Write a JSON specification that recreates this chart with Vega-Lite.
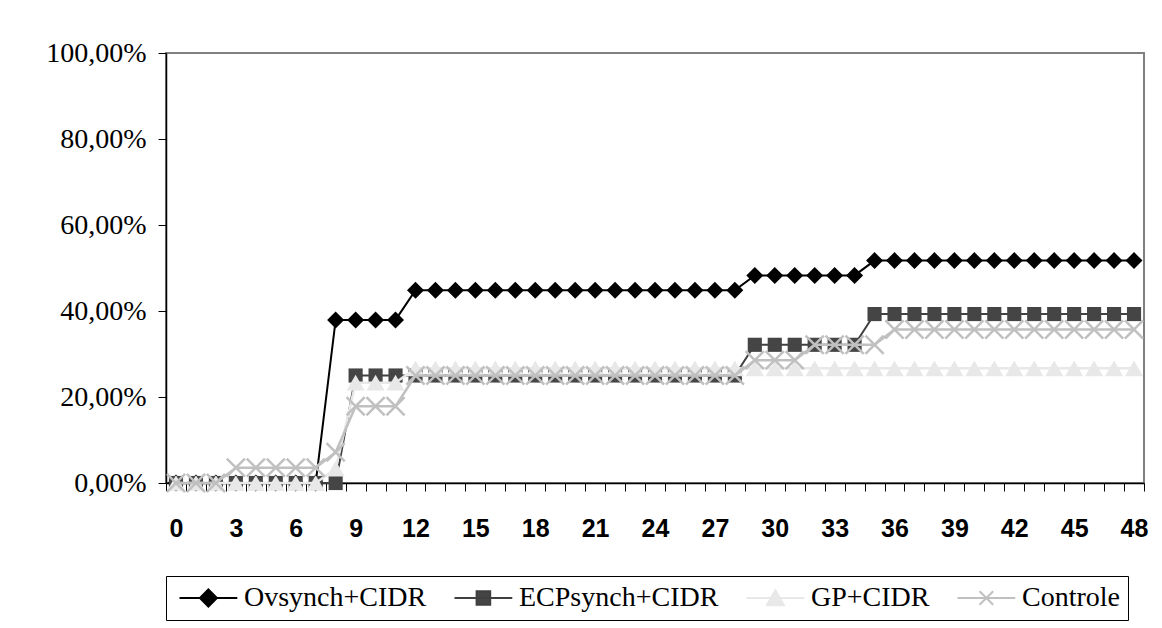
{
  "$schema": "https://vega.github.io/schema/vega-lite/v6.json",
  "width": 978,
  "height": 430,
  "autosize": {"type": "none"},
  "padding": {"left": 166, "top": 53, "right": 18, "bottom": 145},
  "background": "white",
  "config": {
    "view": {"stroke": "#808080", "strokeWidth": 2},
    "axis": {"grid": false},
    "legend": {
      "orient": "bottom", "direction": "horizontal", "title": null,
      "labelFont": "Liberation Serif", "labelFontSize": 28, "labelColor": "black",
      "symbolSize": 289, "symbolStrokeWidth": 2, "labelOffset": 42,
      "columnPadding": 22, "padding": 8, "strokeColor": "black", "fillColor": "white",
      "offset": 35, "labelLimit": 400, "symbolOpacity": 1
    }
  },
  "data": {"values": [
    {"day": 0, "Ovsynch+CIDR": 0, "ECPsynch+CIDR": 0, "GP+CIDR": 0, "Controle": 0},
    {"day": 1, "Ovsynch+CIDR": 0, "ECPsynch+CIDR": 0, "GP+CIDR": 0, "Controle": 0},
    {"day": 2, "Ovsynch+CIDR": 0, "ECPsynch+CIDR": 0, "GP+CIDR": 0, "Controle": 0},
    {"day": 3, "Ovsynch+CIDR": 0, "ECPsynch+CIDR": 0, "GP+CIDR": 0, "Controle": 0.0357},
    {"day": 4, "Ovsynch+CIDR": 0, "ECPsynch+CIDR": 0, "GP+CIDR": 0, "Controle": 0.0357},
    {"day": 5, "Ovsynch+CIDR": 0, "ECPsynch+CIDR": 0, "GP+CIDR": 0, "Controle": 0.0357},
    {"day": 6, "Ovsynch+CIDR": 0, "ECPsynch+CIDR": 0, "GP+CIDR": 0, "Controle": 0.0357},
    {"day": 7, "Ovsynch+CIDR": 0, "ECPsynch+CIDR": 0, "GP+CIDR": 0, "Controle": 0.0357},
    {"day": 8, "Ovsynch+CIDR": 0.3793, "ECPsynch+CIDR": 0, "GP+CIDR": 0.0333, "Controle": 0.0714},
    {"day": 9, "Ovsynch+CIDR": 0.3793, "ECPsynch+CIDR": 0.25, "GP+CIDR": 0.2333, "Controle": 0.1786},
    {"day": 10, "Ovsynch+CIDR": 0.3793, "ECPsynch+CIDR": 0.25, "GP+CIDR": 0.2333, "Controle": 0.1786},
    {"day": 11, "Ovsynch+CIDR": 0.3793, "ECPsynch+CIDR": 0.25, "GP+CIDR": 0.2333, "Controle": 0.1786},
    {"day": 12, "Ovsynch+CIDR": 0.4483, "ECPsynch+CIDR": 0.25, "GP+CIDR": 0.2667, "Controle": 0.25},
    {"day": 13, "Ovsynch+CIDR": 0.4483, "ECPsynch+CIDR": 0.25, "GP+CIDR": 0.2667, "Controle": 0.25},
    {"day": 14, "Ovsynch+CIDR": 0.4483, "ECPsynch+CIDR": 0.25, "GP+CIDR": 0.2667, "Controle": 0.25},
    {"day": 15, "Ovsynch+CIDR": 0.4483, "ECPsynch+CIDR": 0.25, "GP+CIDR": 0.2667, "Controle": 0.25},
    {"day": 16, "Ovsynch+CIDR": 0.4483, "ECPsynch+CIDR": 0.25, "GP+CIDR": 0.2667, "Controle": 0.25},
    {"day": 17, "Ovsynch+CIDR": 0.4483, "ECPsynch+CIDR": 0.25, "GP+CIDR": 0.2667, "Controle": 0.25},
    {"day": 18, "Ovsynch+CIDR": 0.4483, "ECPsynch+CIDR": 0.25, "GP+CIDR": 0.2667, "Controle": 0.25},
    {"day": 19, "Ovsynch+CIDR": 0.4483, "ECPsynch+CIDR": 0.25, "GP+CIDR": 0.2667, "Controle": 0.25},
    {"day": 20, "Ovsynch+CIDR": 0.4483, "ECPsynch+CIDR": 0.25, "GP+CIDR": 0.2667, "Controle": 0.25},
    {"day": 21, "Ovsynch+CIDR": 0.4483, "ECPsynch+CIDR": 0.25, "GP+CIDR": 0.2667, "Controle": 0.25},
    {"day": 22, "Ovsynch+CIDR": 0.4483, "ECPsynch+CIDR": 0.25, "GP+CIDR": 0.2667, "Controle": 0.25},
    {"day": 23, "Ovsynch+CIDR": 0.4483, "ECPsynch+CIDR": 0.25, "GP+CIDR": 0.2667, "Controle": 0.25},
    {"day": 24, "Ovsynch+CIDR": 0.4483, "ECPsynch+CIDR": 0.25, "GP+CIDR": 0.2667, "Controle": 0.25},
    {"day": 25, "Ovsynch+CIDR": 0.4483, "ECPsynch+CIDR": 0.25, "GP+CIDR": 0.2667, "Controle": 0.25},
    {"day": 26, "Ovsynch+CIDR": 0.4483, "ECPsynch+CIDR": 0.25, "GP+CIDR": 0.2667, "Controle": 0.25},
    {"day": 27, "Ovsynch+CIDR": 0.4483, "ECPsynch+CIDR": 0.25, "GP+CIDR": 0.2667, "Controle": 0.25},
    {"day": 28, "Ovsynch+CIDR": 0.4483, "ECPsynch+CIDR": 0.25, "GP+CIDR": 0.2667, "Controle": 0.25},
    {"day": 29, "Ovsynch+CIDR": 0.4828, "ECPsynch+CIDR": 0.3214, "GP+CIDR": 0.2667, "Controle": 0.2857},
    {"day": 30, "Ovsynch+CIDR": 0.4828, "ECPsynch+CIDR": 0.3214, "GP+CIDR": 0.2667, "Controle": 0.2857},
    {"day": 31, "Ovsynch+CIDR": 0.4828, "ECPsynch+CIDR": 0.3214, "GP+CIDR": 0.2667, "Controle": 0.2857},
    {"day": 32, "Ovsynch+CIDR": 0.4828, "ECPsynch+CIDR": 0.3214, "GP+CIDR": 0.2667, "Controle": 0.3214},
    {"day": 33, "Ovsynch+CIDR": 0.4828, "ECPsynch+CIDR": 0.3214, "GP+CIDR": 0.2667, "Controle": 0.3214},
    {"day": 34, "Ovsynch+CIDR": 0.4828, "ECPsynch+CIDR": 0.3214, "GP+CIDR": 0.2667, "Controle": 0.3214},
    {"day": 35, "Ovsynch+CIDR": 0.5172, "ECPsynch+CIDR": 0.3929, "GP+CIDR": 0.2667, "Controle": 0.3214},
    {"day": 36, "Ovsynch+CIDR": 0.5172, "ECPsynch+CIDR": 0.3929, "GP+CIDR": 0.2667, "Controle": 0.3571},
    {"day": 37, "Ovsynch+CIDR": 0.5172, "ECPsynch+CIDR": 0.3929, "GP+CIDR": 0.2667, "Controle": 0.3571},
    {"day": 38, "Ovsynch+CIDR": 0.5172, "ECPsynch+CIDR": 0.3929, "GP+CIDR": 0.2667, "Controle": 0.3571},
    {"day": 39, "Ovsynch+CIDR": 0.5172, "ECPsynch+CIDR": 0.3929, "GP+CIDR": 0.2667, "Controle": 0.3571},
    {"day": 40, "Ovsynch+CIDR": 0.5172, "ECPsynch+CIDR": 0.3929, "GP+CIDR": 0.2667, "Controle": 0.3571},
    {"day": 41, "Ovsynch+CIDR": 0.5172, "ECPsynch+CIDR": 0.3929, "GP+CIDR": 0.2667, "Controle": 0.3571},
    {"day": 42, "Ovsynch+CIDR": 0.5172, "ECPsynch+CIDR": 0.3929, "GP+CIDR": 0.2667, "Controle": 0.3571},
    {"day": 43, "Ovsynch+CIDR": 0.5172, "ECPsynch+CIDR": 0.3929, "GP+CIDR": 0.2667, "Controle": 0.3571},
    {"day": 44, "Ovsynch+CIDR": 0.5172, "ECPsynch+CIDR": 0.3929, "GP+CIDR": 0.2667, "Controle": 0.3571},
    {"day": 45, "Ovsynch+CIDR": 0.5172, "ECPsynch+CIDR": 0.3929, "GP+CIDR": 0.2667, "Controle": 0.3571},
    {"day": 46, "Ovsynch+CIDR": 0.5172, "ECPsynch+CIDR": 0.3929, "GP+CIDR": 0.2667, "Controle": 0.3571},
    {"day": 47, "Ovsynch+CIDR": 0.5172, "ECPsynch+CIDR": 0.3929, "GP+CIDR": 0.2667, "Controle": 0.3571},
    {"day": 48, "Ovsynch+CIDR": 0.5172, "ECPsynch+CIDR": 0.3929, "GP+CIDR": 0.2667, "Controle": 0.3571}
  ]},
  "transform": [{"fold": ["Ovsynch+CIDR", "ECPsynch+CIDR", "GP+CIDR", "Controle"], "as": ["s", "v"]}],
  "encoding": {
    "x": {
      "field": "day", "type": "ordinal",
      "scale": {"type": "band", "paddingInner": 0, "paddingOuter": 0},
      "axis": {
        "title": null, "labelExpr": "datum.value % 3 == 0 ? datum.label : ''",
        "labelFont": "Liberation Sans", "labelFontWeight": "bold", "labelFontSize": 25,
        "labelColor": "black", "tickBand": "extent", "tickSize": 8, "tickColor": "black",
        "domainColor": "black", "domainWidth": 1.5, "labelPadding": 25, "labelAngle": 0,
        "labelOverlap": false, "labelFlush": false
      }
    },
    "y": {
      "field": "v", "type": "quantitative",
      "scale": {"domain": [0, 1], "nice": false},
      "axis": {
        "title": null, "values": [0, 0.2, 0.4, 0.6, 0.8, 1],
        "labelExpr": "replace(format(datum.value, '.2%'), '.', ',')",
        "labelFont": "Liberation Serif", "labelFontSize": 28, "labelColor": "black",
        "tickSize": 8, "tickColor": "black", "domainColor": "black", "domainWidth": 1.5,
        "labelPadding": 12, "labelFlush": false
      }
    }
  },
  "layer": [
    {"transform": [{"filter": "datum.s == 'Ovsynch+CIDR'"}], "mark": {"type": "line", "color": "#000000", "strokeWidth": 2}},
    {"transform": [{"filter": "datum.s == 'Ovsynch+CIDR'"}], "mark": {"type": "point", "shape": "diamond", "filled": true, "color": "#000000", "size": 289, "opacity": 1}},
    {"transform": [{"filter": "datum.s == 'ECPsynch+CIDR'"}], "mark": {"type": "line", "color": "#404040", "strokeWidth": 2}},
    {"transform": [{"filter": "datum.s == 'ECPsynch+CIDR'"}], "mark": {"type": "point", "shape": "square", "filled": true, "color": "#454545", "size": 200, "opacity": 1}},
    {"transform": [{"filter": "datum.s == 'GP+CIDR'"}], "mark": {"type": "line", "color": "#e8e8e8", "strokeWidth": 2.5}},
    {"transform": [{"filter": "datum.s == 'GP+CIDR'"}], "mark": {"type": "point", "shape": "triangle-up", "filled": true, "color": "#e8e8e8", "size": 330, "opacity": 1}},
    {"transform": [{"filter": "datum.s == 'Controle'"}], "mark": {"type": "line", "color": "#c0c0c0", "strokeWidth": 2.5}},
    {"transform": [{"filter": "datum.s == 'Controle'"}], "mark": {"type": "point", "shape": "M-1,-1L1,1M-1,1L1,-1", "filled": false, "color": "#c0c0c0", "strokeWidth": 2.5, "size": 330, "opacity": 1}},
    {
      "transform": [{"filter": "false"}],
      "mark": {"type": "point", "filled": true, "strokeWidth": 2, "opacity": 1},
      "encoding": {
        "shape": {"field": "s", "type": "nominal", "title": null,
          "scale": {"domain": ["Ovsynch+CIDR", "ECPsynch+CIDR", "GP+CIDR", "Controle"],
            "range": ["M-1,0H5.8M2.4,-1L3.4,0L2.4,1L1.4,0Z", "M-1,0H5.8M1.6,-0.8H3.2V0.8H1.6Z", "M-1,0H5.8M2.4,-0.9L3.4,0.85H1.4Z", "M-1,0H5.8M1.6,-0.8L3.2,0.8M1.6,0.8L3.2,-0.8"]}},
        "fill": {"field": "s", "type": "nominal", "title": null,
          "scale": {"domain": ["Ovsynch+CIDR", "ECPsynch+CIDR", "GP+CIDR", "Controle"],
            "range": ["#000000", "#454545", "#e8e8e8", "#c0c0c0"]}},
        "stroke": {"field": "s", "type": "nominal", "title": null,
          "scale": {"domain": ["Ovsynch+CIDR", "ECPsynch+CIDR", "GP+CIDR", "Controle"],
            "range": ["#000000", "#404040", "#e8e8e8", "#c0c0c0"]}}
      }
    }
  ]
}
